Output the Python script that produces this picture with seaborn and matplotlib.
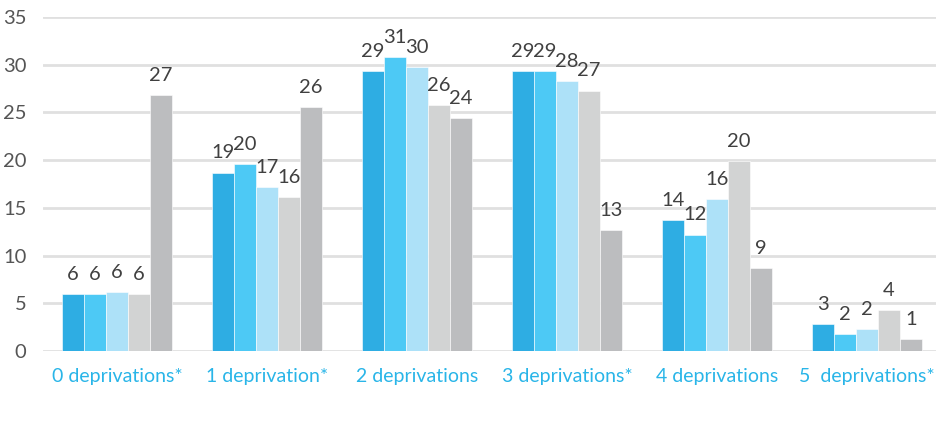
import numpy as np
import pandas as pd
import matplotlib
matplotlib.use("Agg")
import matplotlib.pyplot as plt
import seaborn as sns

# ── Données ──────────────────────────────────────────────────────────────────
categories = ["0 deprivations*", "1 deprivation*", "2 deprivations",
              "3 deprivations*", "4 deprivations", "5  deprivations*"]
series = ["S1", "S2", "S3", "S4", "S5"]

s1 = [6.0, 18.7, 29.3, 29.3, 13.7, 2.8]
s2 = [6.0, 19.6, 30.8, 29.3, 12.2, 1.8]
s3 = [6.2, 17.2, 29.8, 28.3, 15.9, 2.3]
s4 = [6.0, 16.1, 25.8, 27.3, 19.9, 4.3]
s5 = [26.8, 25.6, 24.4, 12.7, 8.7, 1.3]

labels_s1 = ["6", "19", "29", "29", "14", "3"]
labels_s2 = ["6", "20", "31", "29", "12", "2"]
labels_s3 = ["6", "17", "30", "28", "16", "2"]
labels_s4 = ["6", "16", "26", "27", "20", "4"]
labels_s5 = ["27", "26", "24", "13", "9", "1"]

colors = ["#2eade3", "#4dc9f5", "#ade1f8", "#d2d3d3", "#bcbdbf"]

values = [s1, s2, s3, s4, s5]
labels = [labels_s1, labels_s2, labels_s3, labels_s4, labels_s5]

df = pd.DataFrame({
    "category": np.tile(categories, len(series)),
    "series": np.repeat(series, len(categories)),
    "value": np.concatenate(values),
})

# ── Figure ───────────────────────────────────────────────────────────────────
sns.set_style("white")
plt.rcParams["font.family"] = ["Lato", "DejaVu Sans"]

fig = plt.figure(figsize=(9.36, 4.26), dpi=100)
ax = fig.add_axes([0.046, 0.176, 0.954, 0.784])

sns.barplot(data=df, x="category", y="value", hue="series", order=categories,
            hue_order=series, palette=colors, saturation=1, width=0.733, gap=0,
            edgecolor="white", linewidth=0.4, legend=False, ax=ax, zorder=3)

for cont, lab in zip(ax.containers, labels):
    ax.bar_label(cont, labels=lab, padding=8, fontsize=14.5, color="#404040")

ax.set_ylim(0, 35)
ax.set_xlim(-0.493, 5.46)
ax.set_yticks(range(0, 36, 5))
ax.yaxis.grid(True, color="#e0e0e0", linewidth=2)
ax.set_axisbelow(True)
for sp in ax.spines.values():
    sp.set_visible(False)

ax.set_xlabel("")
ax.set_ylabel("")
ax.tick_params(axis="x", length=0, pad=12, labelsize=14, labelcolor="#29b5e8")
ax.tick_params(axis="y", length=0, pad=12, labelsize=14.5, labelcolor="#555555")

plt.savefig("out.png", dpi=100)
